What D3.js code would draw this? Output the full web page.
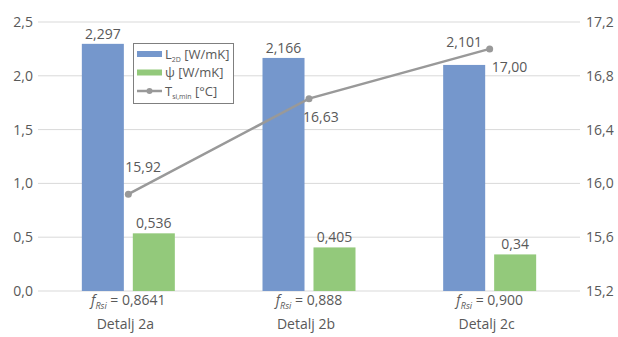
<!DOCTYPE html>
<html><head><meta charset="utf-8">
<script src="https://cdn.jsdelivr.net/npm/d3@7"></script>
<style>
body{margin:0;background:#fff;}
svg{display:block;font-family:"Open Sans",sans-serif;}
</style></head>
<body><svg id="c" width="618" height="337"></svg>
<script>
const categories = ["Detalj 2a", "Detalj 2b", "Detalj 2c"];
const fRsi = ["0,8641", "0,888", "0,900"];
const L2D = [2.297, 2.166, 2.101];
const psi = [0.536, 0.405, 0.34];
const Tsi = [15.92, 16.63, 17.00];
const L2DLabels = ["2,297", "2,166", "2,101"];
const psiLabels = ["0,536", "0,405", "0,34"];
const TsiLabels = ["15,92", "16,63", "17,00"];
const leftTicks = [0, 0.5, 1.0, 1.5, 2.0, 2.5];
const rightTicks = [15.2, 15.6, 16.0, 16.4, 16.8, 17.2];
// label placement keywords
const TsiLabelPos = ["aboveLeft", "belowLeft", "belowRight"];
const L2DLabelLift = [0, 0, 1];

(function(){
const svg = d3.select("#c");
const pL = 38, pR = 580, pT = 22, pB = 291;
const txt = "#595959";
const fmt = v => d3.format(".1f")(v).replace(".", ",");
const placeDx = {aboveLeft: -3, belowLeft: -6, belowRight: 2};
const placeDy = {aboveLeft: -22, belowLeft: 23, belowRight: 23};

const x0 = d3.scaleBand().domain(categories).range([pL, pR]);
const bw = x0.bandwidth();
const x1 = d3.scaleBand().domain(["L", "psi"]).range([bw/2 - 46.5, bw/2 + 46.5]).paddingInner(0.176);
const yL = d3.scaleLinear().domain([0, 2.5]).range([pB, pT]);
const yR = d3.scaleLinear().domain([15.2, 17.2]).range([pB, pT]);

svg.append("g").selectAll("line").data(leftTicks).join("line")
  .attr("x1", pL).attr("x2", pR)
  .attr("y1", d => yL(d)).attr("y2", d => yL(d))
  .attr("stroke", "#d9d9d9").attr("stroke-width", 1);

svg.append("g").selectAll("text").data(leftTicks).join("text")
  .attr("x", 33).attr("y", d => yL(d)).attr("dy", "0.35em")
  .attr("text-anchor", "end").attr("fill", txt).attr("font-size", 14)
  .text(d => fmt(d));
svg.append("g").selectAll("text").data(rightTicks).join("text")
  .attr("x", 586).attr("y", d => yR(d)).attr("dy", "0.35em")
  .attr("text-anchor", "start").attr("fill", txt).attr("font-size", 14)
  .text(d => fmt(d));

const gB = svg.append("g");
gB.selectAll("rect.l").data(L2D).join("rect").attr("class", "l")
  .attr("x", (d, i) => x0(categories[i]) + x1("L")).attr("width", x1.bandwidth())
  .attr("y", d => yL(d)).attr("height", d => yL(0) - yL(d)).attr("fill", "#7597cc");
gB.selectAll("rect.p").data(psi).join("rect").attr("class", "p")
  .attr("x", (d, i) => x0(categories[i]) + x1("psi")).attr("width", x1.bandwidth())
  .attr("y", d => yL(d)).attr("height", d => yL(0) - yL(d)).attr("fill", "#93c97b");

svg.append("g").selectAll("text").data(L2D).join("text")
  .attr("x", (d, i) => x0(categories[i]) + x1("L") + x1.bandwidth()/2)
  .attr("y", (d, i) => yL(d) - 5 - L2DLabelLift[i] * 13)
  .attr("text-anchor", "middle").attr("fill", txt).attr("font-size", 14)
  .text((d, i) => L2DLabels[i]);
svg.append("g").selectAll("text").data(psi).join("text")
  .attr("x", (d, i) => x0(categories[i]) + x1("psi") + x1.bandwidth()/2)
  .attr("y", d => yL(d) - 5)
  .attr("text-anchor", "middle").attr("fill", txt).attr("font-size", 14)
  .text((d, i) => psiLabels[i]);

const cx = c => x0(c) + bw/2;
const line = d3.line().x((d, i) => cx(categories[i])).y(d => yR(d));
svg.append("path").datum(Tsi).attr("d", line)
  .attr("fill", "none").attr("stroke", "#999999").attr("stroke-width", 2.5);
svg.append("g").selectAll("circle").data(Tsi).join("circle")
  .attr("cx", (d, i) => cx(categories[i])).attr("cy", d => yR(d)).attr("r", 3.5)
  .attr("fill", "#999999");
svg.append("g").selectAll("text").data(Tsi).join("text")
  .attr("x", (d, i) => cx(categories[i]) + placeDx[TsiLabelPos[i]])
  .attr("y", (d, i) => yR(d) + placeDy[TsiLabelPos[i]])
  .attr("text-anchor", "start").attr("fill", txt).attr("font-size", 14)
  .text((d, i) => TsiLabels[i]);

const gc = svg.append("g");
categories.forEach((c, i) => {
  const t = gc.append("text").attr("x", cx(c)).attr("y", 305)
    .attr("text-anchor", "middle").attr("fill", txt).attr("font-size", 14);
  t.append("tspan").attr("font-style", "italic").text("f");
  t.append("tspan").attr("font-style", "italic").attr("font-size", 9).attr("dy", 4).text("Rsi");
  t.append("tspan").attr("dy", -4).text(" = " + fRsi[i]);
  gc.append("text").attr("x", cx(c) - 3).attr("y", 329)
    .attr("text-anchor", "middle").attr("fill", txt).attr("font-size", 14).text(c);
});

const lg = svg.append("g");
lg.append("rect").attr("x", 133.5).attr("y", 43.5).attr("width", 100).attr("height", 60)
  .attr("fill", "#fff").attr("stroke", "#7f7f7f").attr("stroke-width", 1);
const items = [
  {type: "rect", color: "#7597cc", main: "L", sub: "2D", rest: " [W/mK]"},
  {type: "rect", color: "#93c97b", main: "ψ", sub: "", rest: " [W/mK]"},
  {type: "line", color: "#999999", main: "T", sub: "si,min", rest: " [°C]"}
];
items.forEach((it, i) => {
  const y = 54 + i * 18.5;
  if (it.type === "rect") {
    lg.append("rect").attr("x", 137).attr("y", y - 3).attr("width", 25).attr("height", 6).attr("fill", it.color);
  } else {
    lg.append("line").attr("x1", 137).attr("x2", 162).attr("y1", y).attr("y2", y)
      .attr("stroke", it.color).attr("stroke-width", 2.5);
    lg.append("circle").attr("cx", 149.5).attr("cy", y).attr("r", 3).attr("fill", it.color);
  }
  const t = lg.append("text").attr("x", 165).attr("y", y).attr("dy", "0.35em")
    .attr("fill", txt).attr("font-size", 13);
  t.append("tspan").text(it.main);
  if (it.sub) t.append("tspan").attr("font-size", 7).attr("dy", 3).text(it.sub);
  t.append("tspan").attr("dy", it.sub ? -3 : 0).text(it.rest);
});
})();
</script></body></html>
